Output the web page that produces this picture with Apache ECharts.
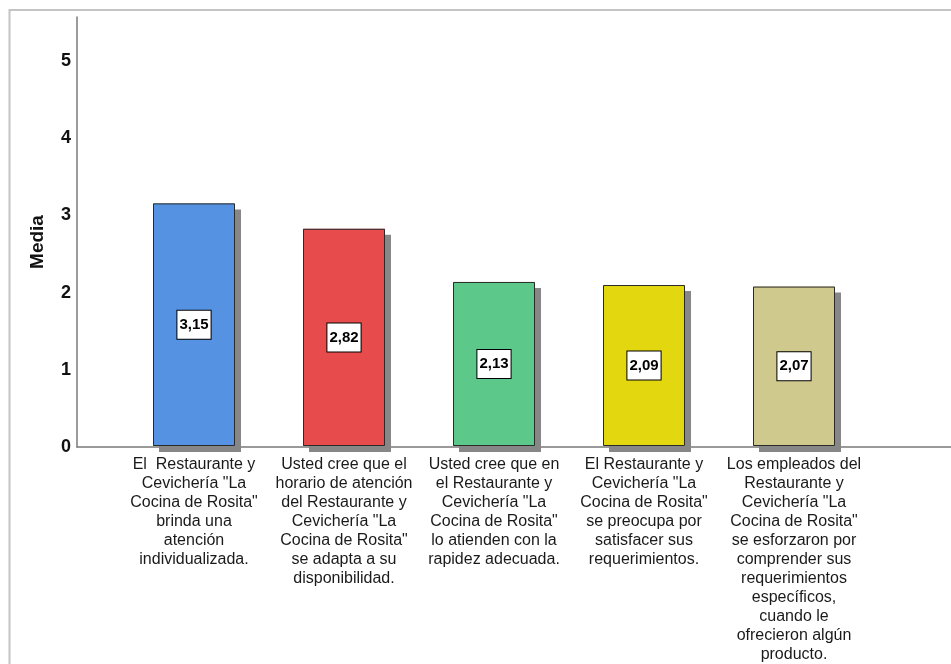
<!DOCTYPE html>
<html>
<head>
<meta charset="utf-8">
<script src="https://cdn.jsdelivr.net/npm/echarts@6/dist/echarts.min.js"></script>
<style>
html,body{margin:0;padding:0;background:#fff;}
#chart{width:951px;height:664px;}
</style>
</head>
<body>
<div id="chart"></div>
<script>
var categories = [
  'El  Restaurante y\nCevichería "La\nCocina de Rosita"\nbrinda una\natención\nindividualizada.',
  'Usted cree que el\nhorario de atención\ndel Restaurante y\nCevichería "La\nCocina de Rosita"\nse adapta a su\ndisponibilidad.',
  'Usted cree que en\nel Restaurante y\nCevichería "La\nCocina de Rosita"\nlo atienden con la\nrapidez adecuada.',
  'El Restaurante y\nCevichería "La\nCocina de Rosita"\nse preocupa por\nsatisfacer sus\nrequerimientos.',
  'Los empleados del\nRestaurante y\nCevichería "La\nCocina de Rosita"\nse esforzaron por\ncomprender sus\nrequerimientos\nespecíficos,\ncuando le\nofrecieron algún\nproducto.'
];
var means = [3.15, 2.82, 2.13, 2.09, 2.07];
var barColors = ['#5592E2', '#E84B4C', '#5CC88A', '#E3D70F', '#D0C98E'];
var yTicks = [0, 1, 2, 3, 4, 5];
var yMax = 5.57;

var SANS = "'Liberation Sans',Arial,sans-serif";

var chart = echarts.init(document.getElementById('chart'));
chart.setOption({
  animation: false,
  backgroundColor: '#fff',
  graphic: [
    { type: 'rect', shape: { x: 9.5, y: 10, width: 1000, height: 800 },
      style: { fill: 'none', stroke: '#c4c4c4', lineWidth: 2 }, silent: true, z: 0 },
    { type: 'text', x: 38, y: 242, rotation: Math.PI / 2,
      style: { text: 'Media', font: 'bold 19px ' + SANS, fill: '#111', textAlign: 'center', textVerticalAlign: 'middle' } }
  ],
  grid: [
    { left: 77, right: 0, top: 17, bottom: 217 },
    { left: 119, width: 750, top: 17, bottom: 217 }
  ],
  xAxis: [
    { gridIndex: 0, type: 'value', min: 0, max: 1,
      axisLine: { show: true, lineStyle: { color: '#7a7a7a', width: 1.5 } },
      axisTick: { show: false }, axisLabel: { show: false }, splitLine: { show: false } },
    { gridIndex: 1, type: 'category', data: categories,
      axisLine: { show: false }, axisTick: { show: false },
      axisLabel: { interval: 0, margin: 9, color: '#1a1a1a', fontFamily: SANS, fontSize: 16, lineHeight: 19, align: 'center' } }
  ],
  yAxis: [
    { gridIndex: 0, type: 'value', min: 0, max: yMax, interval: 1,
      axisLine: { show: true, lineStyle: { color: '#7a7a7a', width: 1.5 } },
      axisTick: { show: false }, splitLine: { show: false },
      axisLabel: { showMaxLabel: false, margin: 6, color: '#111', fontWeight: 'bold', fontFamily: SANS, fontSize: 18,
        formatter: function (v) { return yTicks.indexOf(v) >= 0 ? String(v) : ''; } } },
    { gridIndex: 1, type: 'value', min: 0, max: yMax, show: false }
  ],
  series: [{
    type: 'bar',
    xAxisIndex: 1, yAxisIndex: 1,
    barWidth: 82,
    z: 2,
    data: means.map(function (v, i) {
      return { value: v, itemStyle: { color: barColors[i] } };
    }),
    itemStyle: {
      borderWidth: 0,
      shadowColor: '#878787', shadowOffsetX: 6, shadowOffsetY: 6, shadowBlur: 0
    }
  }, {
    type: 'bar',
    xAxisIndex: 1, yAxisIndex: 1,
    barWidth: 82,
    barGap: '-100%',
    z: 3,
    data: means,
    itemStyle: { color: 'rgba(0,0,0,0)', borderColor: '#2a2a2a', borderWidth: 1 },
    label: {
      show: true, position: 'inside',
      formatter: function (p) { return p.value.toFixed(2).replace('.', ','); },
      color: '#000', fontWeight: 'bold', fontFamily: SANS, fontSize: 15,
      backgroundColor: '#fff', borderColor: '#000', borderWidth: 1, padding: [7, 2, 6, 2]
    }
  }]
});
</script>
</body>
</html>
